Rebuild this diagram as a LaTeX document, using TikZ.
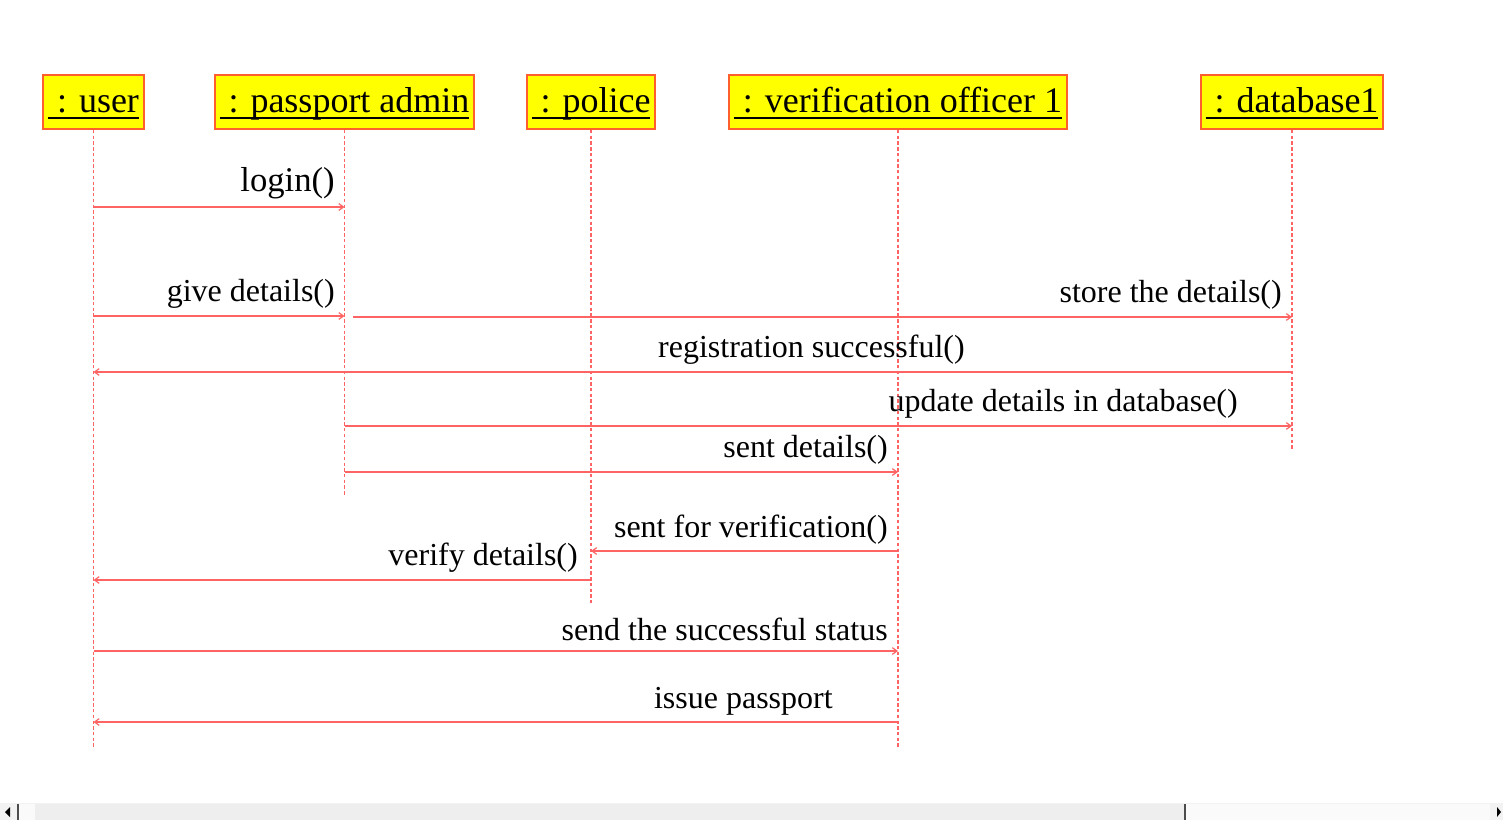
\documentclass[tikz,border=0pt]{standalone}
\usepackage{fontspec}
\setmainfont{Liberation Serif}
\definecolor{myyellow}{RGB}{255,255,0}
\definecolor{myred}{RGB}{255,100,100}
\definecolor{myorange}{RGB}{255,95,45}
\usetikzlibrary{arrows.meta,calc}
\newcommand{\objname}[1]{\setbox0\hbox{\ : #1}\raisebox{0pt}[21pt][4.5pt]{\rlap{\rule[-4.5pt]{\wd0}{1.5pt}}\box0}}

\begin{document}
\begin{tikzpicture}[x=0.75pt,y=-0.75pt,
    objnode/.style={draw=myorange,fill=myyellow,line width=1.5pt,inner xsep=3.5pt,minimum height=40.5pt,font=\fontsize{27}{30}\selectfont},
    lifeline/.style={myred,line width=1.1pt,dash pattern=on 2.5pt off 1.8pt},
    msg/.style={myred,line width=0.9pt,-{Straight Barb[length=3.5pt,width=5pt]}},
    msglabel/.style={anchor=east,inner sep=0pt,font=\fontsize{24}{28}\selectfont}
    ]
    \useasboundingbox (0,0) rectangle (1503,820);

    % the objects
    \node[objnode] (user) at (93.5,102) {\objname{user}};
    \node[objnode] (admin) at (344.5,102) {\objname{passport admin}};
    \node[objnode] (police) at (591,102) {\objname{police}};
    \node[objnode] (officer) at (898,102) {\objname{verification officer 1}};
    \node[objnode] (db) at (1292,102) {\objname{database1}};

    % the lifelines
    \foreach \obj/\bottom in {user/747,admin/495,police/603,officer/747,db/450} {
      \coordinate (\obj-end) at (\obj.south |- 0,\bottom);
      \draw[lifeline] (\obj) -- (\obj-end);
    }

    % the messages
    \draw[msg] (user.south |- 0,207) -- (admin.south |- 0,207);
    \node[msglabel,font=\fontsize{26}{30}\selectfont] (login) at (335,183) {login()};

    \draw[msg] (user.south |- 0,316) -- (admin.south |- 0,316);
    \node[msglabel] (give) at (335,294) {give details()};

    \coordinate (store-start) at (353,317);
    \draw[msg] (store-start) -- (db.south |- 0,317);
    \node[msglabel] (store) at (1282,295) {store the details()};

    \draw[msg] (db.south |- 0,372) -- (user.south |- 0,372);
    \node[msglabel] (reg) at (965,350) {registration successful()};

    \draw[msg] (admin.south |- 0,426) -- (db.south |- 0,426);
    \node[msglabel] (update) at (1238,404) {update details in database()};

    \draw[msg] (admin.south |- 0,472) -- (officer.south |- 0,472);
    \node[msglabel] (sent) at (888,450) {sent details()};

    \draw[msg] (officer.south |- 0,551) -- (police.south |- 0,551);
    \node[msglabel] (verif) at (888,530) {sent for verification()};

    \draw[msg] (police.south |- 0,580) -- (user.south |- 0,580);
    \node[msglabel] (verify) at (578,558) {verify details()};

    \draw[msg] (user.south |- 0,651) -- (officer.south |- 0,651);
    \node[msglabel] (status) at (888,629) {send the successful status};

    \draw[msg] (officer.south |- 0,722) -- (user.south |- 0,722);
    \node[msglabel] (issue) at (833,701) {issue passport};

    % the scroll bar
    \fill[gray!10] (0,803) rectangle (1503,820);
    \fill[gray!4] (19,804) rectangle (35,820);
    \fill[gray!13] (35,804) rectangle (1185,820);
    \fill[gray!4] (1186,804) rectangle (1490,820);
    \draw[gray!60!black,line width=1pt] (18,804) -- (18,820);
    \draw[gray!60!black,line width=1pt] (1185,804) -- (1185,820);
    \fill[black] (5,812) -- (10,807) -- (10,817) -- cycle;
    \fill[black] (1501,812) -- (1497,807) -- (1497,817) -- cycle;
\end{tikzpicture}
\end{document}
